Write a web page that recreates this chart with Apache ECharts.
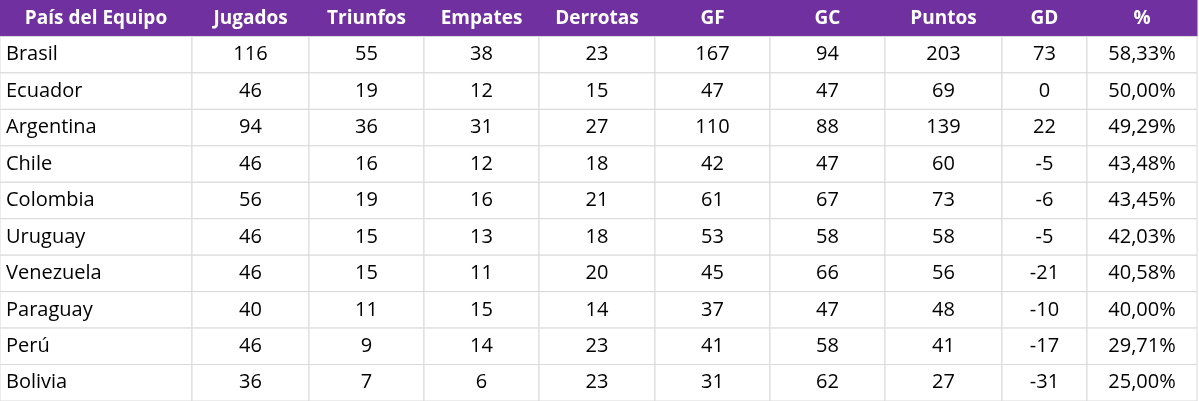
<!DOCTYPE html>
<html lang="es">
<head>
<meta charset="UTF-8">
<script src="https://cdn.jsdelivr.net/npm/echarts@6/dist/echarts.min.js"></script>
<style>
  html, body { margin: 0; padding: 0; background: #fff; }
  #main { width: 1199px; height: 401px; }
</style>
</head>
<body>
<div id="main"></div>
<script>
var headers = ['País del Equipo', 'Jugados', 'Triunfos', 'Empates', 'Derrotas', 'GF', 'GC', 'Puntos', 'GD', '%'];
var teams = ['Brasil', 'Ecuador', 'Argentina', 'Chile', 'Colombia', 'Uruguay', 'Venezuela', 'Paraguay', 'Perú', 'Bolivia'];
var jugados = [116, 46, 94, 46, 56, 46, 46, 40, 46, 36];
var triunfos = [55, 19, 36, 16, 19, 15, 15, 11, 9, 7];
var empates = [38, 12, 31, 12, 16, 13, 11, 15, 14, 6];
var derrotas = [23, 15, 27, 18, 21, 18, 20, 14, 23, 23];
var gf = [167, 47, 110, 42, 61, 53, 45, 37, 41, 31];
var gc = [94, 47, 88, 47, 67, 58, 66, 47, 58, 62];
var puntos = [203, 69, 139, 60, 73, 58, 56, 48, 41, 27];
var gd = [73, 0, 22, -5, -6, -5, -21, -10, -17, -31];
var pct = ['58,33%', '50,00%', '49,29%', '43,48%', '43,45%', '42,03%', '40,58%', '40,00%', '29,71%', '25,00%'];

// column edges in x-axis units (layout, not data)
var edges = [0, 192, 309, 424, 539, 655, 770, 885, 1002, 1087, 1197];

var columns = [teams, jugados, triunfos, empates, derrotas, gf, gc, puntos, gd, pct];
var cells = [];
headers.forEach(function (h, c) { cells.push([c, 0, h]); });
teams.forEach(function (t, r) {
  columns.forEach(function (col, c) { cells.push([c, r + 1, String(col[r])]); });
});

var chart = echarts.init(document.getElementById('main'));
chart.setOption({
  animation: false,
  grid: { left: 0, right: 0, top: 0, bottom: 0 },
  xAxis: { type: 'value', min: 0, max: 1199, show: false },
  yAxis: { type: 'value', min: 0, max: 11, inverse: true, show: false },
  series: [{
    type: 'custom',
    data: cells,
    renderItem: function (params, api) {
      var c = api.value(0), r = api.value(1);
      var text = cells[params.dataIndex][2];
      var p0 = api.coord([edges[c], r]);
      var p1 = api.coord([edges[c + 1], r + 1]);
      var header = r === 0;
      var left = c === 0 && !header;
      return {
        type: 'group',
        children: [{
          type: 'rect',
          shape: { x: p0[0], y: p0[1], width: p1[0] - p0[0], height: p1[1] - p0[1] },
          style: { fill: header ? '#7030a0' : '#ffffff', stroke: header ? '#7030a0' : '#d9d9d9', lineWidth: 1 }
        }, {
          type: 'text',
          style: {
            text: text,
            x: left ? p0[0] + 6 : (p0[0] + p1[0]) / 2,
            y: (p0[1] + p1[1]) / 2,
            align: left ? 'left' : 'center',
            verticalAlign: 'middle',
            fill: header ? '#ffffff' : '#000000',
            font: (header ? 'bold 19px' : '20px') + ' "Open Sans", sans-serif'
          }
        }]
      };
    }
  }]
});
</script>
</body>
</html>
